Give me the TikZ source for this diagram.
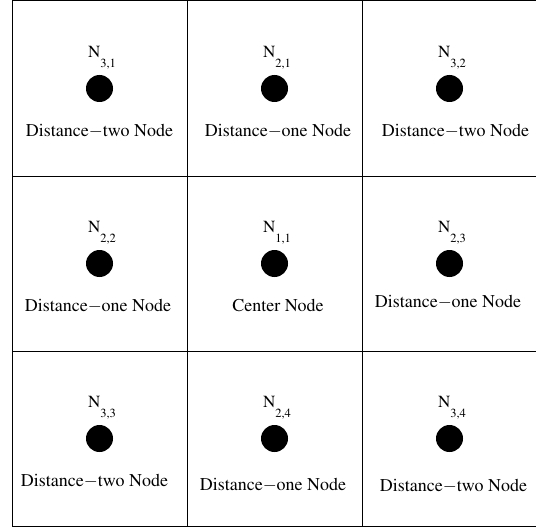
\documentclass[tikz,border=0pt]{standalone}
\usepackage[T1]{fontenc}
\usepackage{mathptmx}
\usetikzlibrary{positioning}
\tikzset{
  spot/.style={circle,fill=black,inner sep=0pt,minimum size=27pt},
  ntag/.style={inner sep=0pt,font=\fontsize{17}{19}\selectfont},
  kind/.style={inner sep=0pt,font=\fontsize{18}{22}\selectfont},
  cellline/.style={line width=1pt}
}
\newcommand{\nsub}[1]{N\raisebox{-10pt}{\fontsize{12.5}{14}\selectfont #1}}
\newcommand{\dash}{\ensuremath{-}}

\begin{document}
\begin{tikzpicture}[x=1pt,y=-1pt]
  \useasboundingbox (0,0) rectangle (536,527);
  % grid, right side open
  \draw[cellline] (536,1) -- (12,1) -- (12,526) -- (536,526);
  \foreach \x in {187,362}{\draw[cellline] (\x,1) -- (\x,526);}
  \foreach \y in {176,351}{\draw[cellline] (12,\y) -- (536,\y);}
  % one node per cell
  \foreach \id/\c/\r/\k/\txt/\dx/\dy in {
      a/0/0/{3,1}/Distance\dash two Node/0/0,
      b/1/0/{2,1}/Distance\dash one Node/3.5/0,
      c/2/0/{3,2}/Distance\dash two Node/6/0,
      d/0/1/{2,2}/Distance\dash one Node/-1.5/0,
      e/1/1/{1,1}/Center Node/3.5/0,
      f/2/1/{2,3}/Distance\dash one Node/-1.5/4.5,
      g/0/2/{3,3}/Distance\dash two Node/-5/0,
      h/1/2/{2,4}/Distance\dash one Node/-1.5/-4,
      i/2/2/{3,4}/Distance\dash two Node/4/-5}{
    \node[spot](d\id) at (99.5+175*\c, 88.5+175*\r){};
    \node[ntag,above=5pt of d\id,xshift=2.5pt](n\id){\nsub{\k}};
    \node[kind,below=22pt of d\id,xshift=\dx pt,yshift=\dy pt](t\id){\txt};}
\end{tikzpicture}
\end{document}
